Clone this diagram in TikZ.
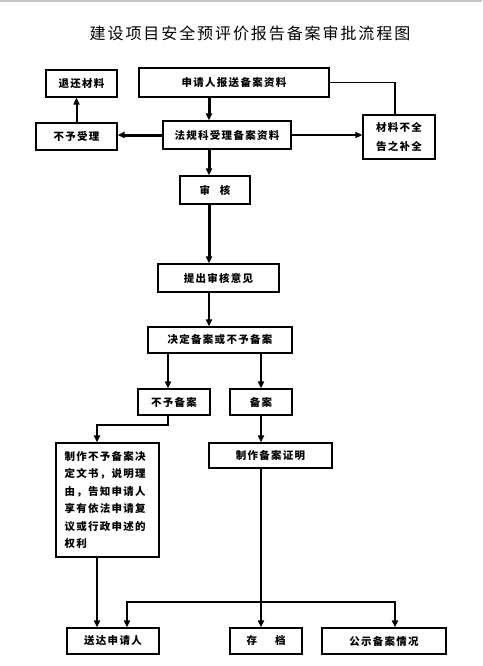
\documentclass[tikz,border=0pt]{standalone}
\usepackage{fontspec}
\newfontfamily\cjk[LetterSpace=12]{Noto Sans CJK SC}
\usetikzlibrary{arrows.meta}

\begin{document}
\begin{tikzpicture}[x=1pt,y=-1pt,
    box/.style={draw,line width=1.2pt,inner sep=0pt,
      font=\cjk\bfseries\fontsize{10.5}{12}\selectfont},
    flow/.style={-{Triangle[length=7pt,width=6pt]},line width=2pt},
    heavy/.style={flow,line width=3pt},
    link/.style={line width=1.4pt}]
  \useasboundingbox (0,0) rectangle (482,666);
  \fill[gray!45] (0,0) rectangle (482,2);
  \node[font=\cjk\fontsize{16}{18}\selectfont] (title) at (250,33)
    {建设项目安全预评价报告备案审批流程图};

  \node[box,minimum width=71pt,minimum height=27pt] (back) at (81.5,83.5) {退还材料};
  \node[box,minimum width=190pt,minimum height=29pt] (apply) at (234,82.5) {申请人报送备案资料};
  \node[box,minimum width=81pt,minimum height=27pt] (reject) at (76.5,136.5) {不予受理};
  \node[box,minimum width=128pt,minimum height=28pt] (accept) at (227,135) {法规科受理备案资料};
  \node[box,minimum width=72pt,minimum height=44pt,align=center,
    font=\cjk\bfseries\fontsize{10.5}{19}\selectfont] (supply) at (399,137) {材料不全\\告之补全};
  \node[box,minimum width=70pt,minimum height=28pt] (audit) at (215,190) {审\hspace{10pt}核};
  \node[box,minimum width=121pt,minimum height=28pt] (opinion) at (218.5,278) {提出审核意见};
  \node[box,minimum width=144pt,minimum height=26pt] (decide) at (220,340) {决定备案或不予备案};
  \node[box,minimum width=72pt,minimum height=26pt] (norec) at (174,402) {不予备案};
  \node[box,minimum width=62pt,minimum height=26pt] (rec) at (261,402) {备案};
  \node[box,minimum width=103pt,minimum height=114pt,text width=86pt,align=left,
    font=\cjk\bfseries\fontsize{10.5}{17.5}\selectfont] (notice) at (107.5,500)
    {制作不予备案决\\定文书，说明理\\由，告知申请人\\享有依法申请复\\议或行政申述的\\权利};
  \node[box,minimum width=123pt,minimum height=25pt] (cert) at (270.5,455.5) {制作备案证明};
  \node[box,minimum width=92pt,minimum height=26pt] (serve) at (113,641) {送达申请人};
  \node[box,minimum width=72pt,minimum height=26pt] (archive) at (266,641) {存\hspace{18pt}档};
  \node[box,minimum width=124pt,minimum height=26pt] (publish) at (384,641) {公示备案情况};

  \coordinate (spine) at (209,0);
  \coordinate (left) at (168,0);
  \coordinate (right) at (261,0);
  \coordinate (farleft) at (97,425);
  \coordinate (hub) at (261,602);

  \draw[heavy] (apply.south -| spine) -- (accept.north -| spine);
  \draw[heavy] (accept.west) -- (reject.east |- accept.west);
  \draw[flow] (reject.north) -- (reject.north |- back.south);
  \draw[flow,line width=1.4pt] (accept.east) -- (supply.west |- accept.east);
  \draw[link] (apply.east) -| ([xshift=-4pt]supply.north);
  \draw[heavy] (accept.south -| spine) -- (audit.north -| spine);
  \draw[heavy] (audit.south -| spine) -- (opinion.north -| spine);
  \draw[flow] (opinion.south -| spine) -- (decide.north -| spine);
  \draw[flow] (decide.south -| left) -- (norec.north -| left);
  \draw[flow] (decide.south -| right) -- (rec.north -| right);
  \draw[flow] (norec.south -| left) |- (farleft) -- (notice.north -| farleft);
  \draw[flow] (rec.south) -- (cert.north -| rec.south);
  \draw[flow] (cert.south -| right) -- (archive.north -| right);
  \draw[flow] (notice.south -| farleft) -- (serve.north -| farleft);
  \draw[flow] (hub) -| ([xshift=14pt]serve.north);
  \draw[flow] (hub) -| ([xshift=11pt]publish.north);
\end{tikzpicture}
\end{document}
